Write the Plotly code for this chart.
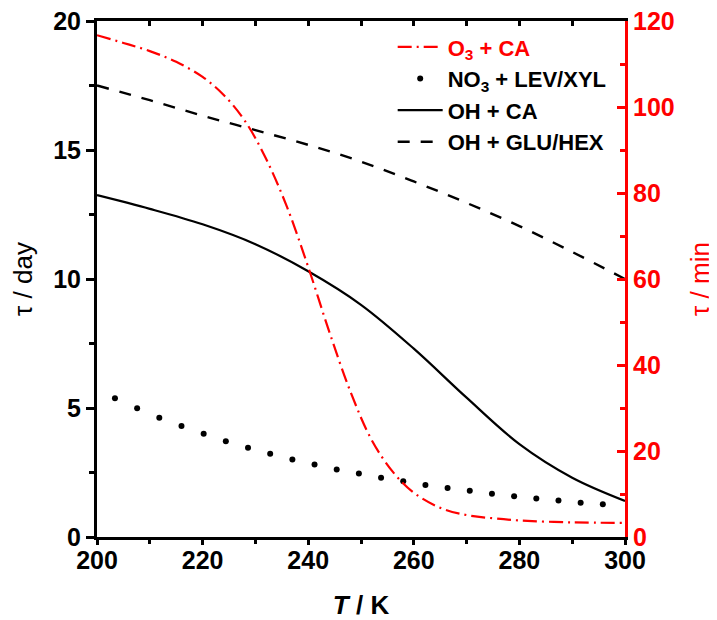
import plotly.graph_objects as go

# ---- data ----
T_o3 = [200, 205, 210, 215, 220, 224, 228, 232, 236, 240, 244, 248, 252, 256, 260, 265, 270, 275, 280, 290, 300]
tau_o3_min = [116.7, 114.9, 113.0, 110.5, 107.0, 102.8, 96.8, 88.0, 76.7, 62.8, 47.7, 33.8, 22.6, 15.2, 10.3, 6.8, 5.1, 4.35, 3.85, 3.4, 3.3]

T_no3 = [203.4, 207.6, 211.8, 216.0, 220.2, 224.4, 228.6, 232.8, 237.0, 241.2, 245.4, 249.6,
         253.8, 258.0, 262.2, 266.4, 270.6, 274.8, 279.0, 283.2, 287.4, 291.6, 295.8]
tau_no3_day = [5.38, 4.99, 4.62, 4.30, 4.00, 3.71, 3.46, 3.23, 3.00, 2.81, 2.62, 2.46,
               2.30, 2.16, 2.02, 1.90, 1.79, 1.68, 1.58, 1.49, 1.41, 1.33, 1.27]

T_oh = [200, 210, 220, 230, 240, 250, 260, 270, 280, 290, 300]
tau_oh_ca_day = [13.25, 12.72, 12.12, 11.35, 10.3, 9.0, 7.3, 5.4, 3.6, 2.3, 1.4]
tau_oh_glu_day = [17.5, 16.93, 16.33, 15.77, 15.2, 14.55, 13.78, 12.95, 12.05, 11.05, 10.0]

names = ["<span style='color:#ff0000'>O<sub>3</sub> + CA</span>",
         "NO<sub>3</sub> + LEV/XYL",
         "OH + CA",
         "OH + GLU/HEX"]

FONT = "Liberation Sans, Arial, sans-serif"
RED = "#ff0000"

fig = go.Figure()
fig.add_trace(go.Scatter(x=T_o3, y=tau_o3_min, name=names[0], yaxis="y2", mode="lines", legendgroup="a",
                         line=dict(color=RED, width=2.2, dash="14px,5px,2px,5px", shape="spline")))
fig.add_trace(go.Scatter(x=T_no3, y=tau_no3_day, name=names[1], mode="markers", legendgroup="b",
                         marker=dict(color="black", size=6)))
fig.add_trace(go.Scatter(x=T_oh, y=tau_oh_ca_day, name=names[2], mode="lines", legendgroup="c",
                         line=dict(color="black", width=2.2, shape="spline")))
fig.add_trace(go.Scatter(x=T_oh, y=tau_oh_glu_day, name=names[3], mode="lines", legendgroup="d",
                         line=dict(color="black", width=2.4, dash="12px,11px", shape="spline")))
# empty trace to carry the top (mirror) axis
fig.add_trace(go.Scatter(x=[], y=[], xaxis="x2", showlegend=False, hoverinfo="skip"))

tickfont = dict(family=FONT, size=25, color="black", weight="bold")

fig.update_layout(
    width=709, height=612,
    margin=dict(l=89, r=92, t=13, b=83, autoexpand=False),
    plot_bgcolor="white", paper_bgcolor="white",
    font=dict(family=FONT, color="black"),
    showlegend=True,
    legend=dict(x=0.56, y=0.99, xanchor="left", yanchor="top",
                bgcolor="rgba(0,0,0,0)", font=dict(family=FONT, size=22, weight="bold", color="black"),
                itemwidth=45, tracegroupgap=0),
    xaxis=dict(range=[200, 300], tick0=200, dtick=20, ticks="outside", ticklen=5, tickwidth=2.5,
               tickcolor="black", showline=True, linewidth=3, linecolor="black", showgrid=False,
               zeroline=False, tickfont=tickfont, automargin=False, ticklabelstandoff=-6,
               ticklabeloverflow="allow",
               minor=dict(dtick=10, ticks="outside", ticklen=4, tickwidth=2.5, tickcolor="black"),
               title=dict(text="<i>T</i> / K", font=dict(family=FONT, size=26, weight="bold"), standoff=28)),
    xaxis2=dict(range=[200, 300], overlaying="x", side="top", tick0=200, dtick=10, ticks="inside",
                ticklen=5, tickwidth=2.5, tickcolor="black", showline=True, linewidth=3, automargin=False,
                linecolor="black", showticklabels=False, showgrid=False, zeroline=False),
    yaxis=dict(range=[0, 20], tick0=0, dtick=5, ticks="outside", ticklen=8, tickwidth=2.5,
               tickcolor="black", showline=True, linewidth=3, linecolor="black", showgrid=False,
               zeroline=False, tickfont=tickfont, automargin=False, ticklabeloverflow="allow",
               minor=dict(dtick=2.5, ticks="outside", ticklen=5, tickwidth=2.5, tickcolor="black"),
               title=dict(text="τ / day", font=dict(family=FONT, size=26), standoff=14)),
    yaxis2=dict(range=[0, 120], overlaying="y", side="right", tick0=0, dtick=20, ticks="inside",
                ticklen=8, tickwidth=2.5, tickcolor=RED, showline=True, linewidth=3, linecolor=RED,
                showgrid=False, zeroline=False, automargin=False, ticklabeloverflow="allow",
                tickfont=dict(family=FONT, size=25, color=RED, weight="bold"),
                minor=dict(dtick=10, ticks="inside", ticklen=5, tickwidth=2.5, tickcolor=RED),
                title=dict(text="τ / min", font=dict(family=FONT, size=26, color=RED), standoff=18)),
)

fig.write_html("out.html")
